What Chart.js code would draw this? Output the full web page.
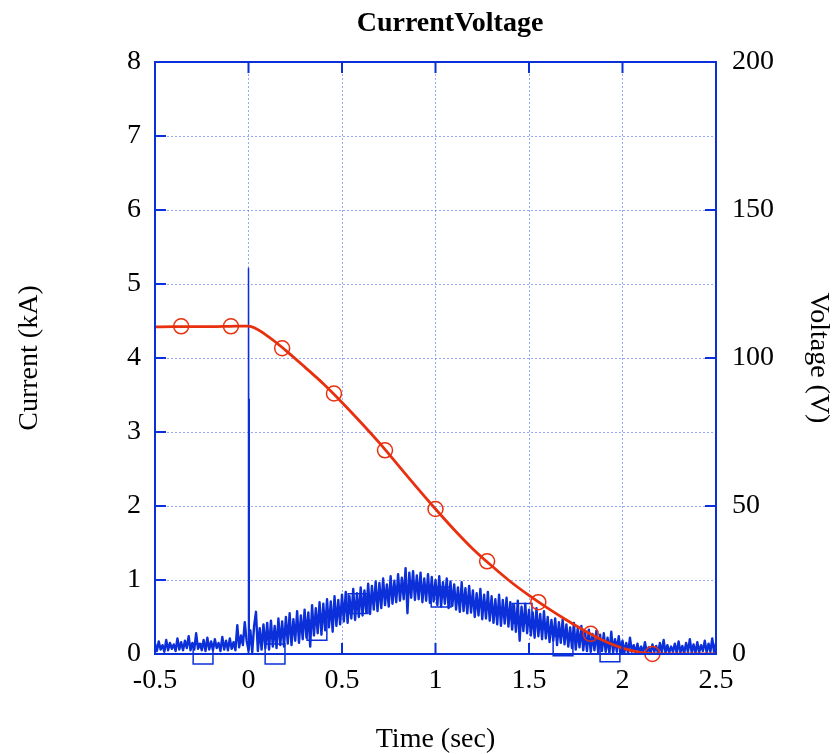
<!DOCTYPE html>
<html>
<head>
<meta charset="utf-8">
<title>CurrentVoltage</title>
<script src="https://cdn.jsdelivr.net/npm/chart.js@4.4.1/dist/chart.umd.min.js"></script>
<style>
  html, body { margin: 0; padding: 0; background: #ffffff; }
  canvas { display: block; }
</style>
</head>
<body>
<canvas id="cvChart" width="835" height="754"></canvas>
<script>
// tick labels
const timeTicks = [-0.5, 0, 0.5, 1, 1.5, 2, 2.5];
const currentTicks = [0, 1, 2, 3, 4, 5, 6, 7, 8];
const voltageTicks = [0, 50, 100, 150, 200];

// current (kA), sampled every 0.01 s from -0.5 s to 2.5 s
const currentStart = -0.5;
const currentStep = 0.01;
const currentValues = [
  0.14,0.04,0.17,0.06,0.12,0.03,0.19,0.05,0.15,0.07,
  0.13,0.04,0.21,0.06,0.16,0.05,0.18,0.08,0.24,0.05,
  0.15,0.06,0.28,0.07,0.14,0.05,0.19,0.04,0.22,0.06,
  0.17,0.05,0.20,0.08,0.15,0.04,0.23,0.06,0.18,0.05,
  0.21,0.07,0.16,0.05,0.39,0.09,0.25,0.12,0.43,0.18,
  0.05,0.32,0.02,0.38,0.57,0.04,0.35,0.06,0.40,0.08,
  0.42,0.06,0.45,0.10,0.38,0.08,0.48,0.12,0.44,0.10,
  0.50,0.14,0.55,0.12,0.47,0.18,0.58,0.15,0.52,0.20,
  0.60,0.22,0.56,0.10,0.66,0.25,0.62,0.28,0.70,0.26,
  0.68,0.32,0.74,0.36,0.71,0.30,0.78,0.38,0.73,0.40,
  0.80,0.44,0.84,0.42,0.78,0.48,0.88,0.46,0.82,0.50,
  0.90,0.52,0.86,0.56,0.95,0.54,0.92,0.60,0.98,0.58,
  0.96,0.62,1.02,0.66,0.94,0.64,1.05,0.68,0.99,0.70,
  1.08,0.72,1.03,0.74,1.16,0.55,1.10,0.76,1.12,0.73,
  1.06,0.74,1.10,0.70,1.02,0.72,1.08,0.69,1.04,0.71,
  1.00,0.66,1.05,0.64,0.97,0.68,1.02,0.62,0.98,0.65,
  0.94,0.60,0.90,0.57,0.97,0.58,0.89,0.55,0.92,0.56,
  0.86,0.50,0.82,0.52,0.88,0.47,0.80,0.48,0.84,0.45,
  0.78,0.42,0.74,0.40,0.80,0.38,0.73,0.41,0.76,0.37,
  0.70,0.33,0.66,0.30,0.72,0.18,0.64,0.31,0.68,0.28,
  0.60,0.25,0.56,0.22,0.62,0.24,0.54,0.20,0.58,0.21,
  0.50,0.16,0.46,0.18,0.48,0.12,0.43,0.15,0.47,0.13,
  0.40,0.10,0.36,0.08,0.42,0.06,0.34,0.09,0.38,0.05,
  0.30,0.04,0.33,0.03,0.27,0.05,0.31,0.02,0.26,0.04,
  0.28,0.03,0.22,0.01,0.30,0.02,0.20,0.03,0.24,0.01,
  0.18,0.02,0.15,0.01,0.22,0.03,0.12,0.01,0.14,0.02,
  0.10,0.01,0.16,0.02,0.09,0.01,0.13,0.03,0.11,0.01,
  0.15,0.02,0.19,0.01,0.12,0.02,0.10,0.03,0.14,0.01,
  0.17,0.02,0.11,0.01,0.15,0.03,0.20,0.02,0.13,0.01,
  0.16,0.02,0.12,0.04,0.18,0.02,0.14,0.03,0.21,0.02,
  0.15
];

// switching spike at t = 0
const spikeTimes = [0.0, 0.0, 0.003, 0.003, 0.005];
const spikeValues = [0.05, 5.22, 0.10, 3.45, 0.06];

// current markers (squares)
const currentMarkTimes = [-0.243, 0.142, 0.366, 0.586, 1.03, 1.463, 1.682, 1.933];
const currentMarkValues = [0.0, 0.0, 0.32, 0.68, 0.77, 0.55, 0.11, 0.03];

// voltage (V)
const voltageTimes = [-0.5,-0.4,-0.3,-0.2,-0.1,0.0,0.1,0.2,0.3,0.4,0.5,0.6,0.7,0.8,0.9,1.0,
  1.1,1.2,1.3,1.4,1.5,1.6,1.7,1.8,1.9,2.0,2.1,2.2,2.3,2.4,2.5];
const voltageValues = [110.5,110.6,110.6,110.6,110.7,110.8,107.5,102.5,97.0,91.3,85.0,78.3,71.3,63.8,56.3,49.0,
  42.0,35.5,29.8,24.5,19.8,15.5,11.5,7.8,4.5,2.0,0.5,0,0,0,0];

// voltage markers (circles)
const voltageMarkTimes = [-0.36, -0.094, 0.18, 0.457, 0.73, 1.0, 1.276, 1.55, 1.83, 2.16];
const voltageMarkValues = [110.7, 110.7, 103.3, 88.0, 68.8, 49.0, 31.3, 17.5, 6.8, 0.0];

const blue = '#0b2fd9';
const red = '#e8300e';
const gridColor = 'rgba(80, 110, 240, 0.6)';
const serif = '"Liberation Serif", "Times New Roman", serif';

const zip = (xs, ys) => xs.map((x, i) => ({ x: x, y: ys[i] }));
const currentPoints = currentValues.map((v, i) => ({ x: currentStart + i * currentStep, y: v }));

// frame, inward tick marks and the title
const framePlugin = {
    id: 'frame',
    afterDraw(chart) {
        const ctx = chart.ctx;
        const a = chart.chartArea;
        const sx = chart.scales.x, sy = chart.scales.y, sy2 = chart.scales.y2;
        const tl = 11;
        ctx.save();
        ctx.strokeStyle = blue;
        ctx.lineWidth = 2;
        ctx.setLineDash([]);
        ctx.strokeRect(a.left, a.top, a.right - a.left, a.bottom - a.top);
        ctx.beginPath();
        timeTicks.forEach(v => {
            const px = sx.getPixelForValue(v);
            ctx.moveTo(px, a.bottom); ctx.lineTo(px, a.bottom - tl);
            ctx.moveTo(px, a.top); ctx.lineTo(px, a.top + tl);
        });
        currentTicks.forEach(v => {
            const py = sy.getPixelForValue(v);
            ctx.moveTo(a.left, py); ctx.lineTo(a.left + tl, py);
        });
        voltageTicks.forEach(v => {
            const py = sy2.getPixelForValue(v);
            ctx.moveTo(a.right, py); ctx.lineTo(a.right - tl, py);
        });
        ctx.stroke();

        ctx.fillStyle = '#000000';
        ctx.font = 'bold 28px ' + serif;
        ctx.textAlign = 'center';
        ctx.textBaseline = 'middle';
        ctx.fillText('CurrentVoltage', 450, 24);
        ctx.restore();
    }
};

const ctx = document.getElementById('cvChart').getContext('2d');

const cvChart = new Chart(ctx, {
    type: 'line',
    data: {
        datasets: [
            {
                label: 'Voltage markers',
                data: zip(voltageMarkTimes, voltageMarkValues),
                yAxisID: 'y2',
                showLine: false,
                pointStyle: 'circle',
                pointRadius: 7.5,
                pointBorderWidth: 1.5,
                pointBorderColor: red,
                pointBackgroundColor: 'rgba(0,0,0,0)',
                clip: false,
                order: 0
            },
            {
                label: 'Voltage',
                data: zip(voltageTimes, voltageValues),
                yAxisID: 'y2',
                borderColor: red,
                borderWidth: 2.8,
                pointRadius: 0,
                cubicInterpolationMode: 'monotone',
                order: 1
            },
            {
                label: 'Spike',
                data: zip(spikeTimes, spikeValues),
                yAxisID: 'y',
                borderColor: blue,
                borderWidth: 1.5,
                pointRadius: 0,
                order: 2
            },
            {
                label: 'Current',
                data: currentPoints,
                yAxisID: 'y',
                borderColor: blue,
                borderWidth: 2.4,
                borderJoinStyle: 'round',
                pointRadius: 0,
                order: 3
            },
            {
                label: 'Current markers',
                data: zip(currentMarkTimes, currentMarkValues),
                yAxisID: 'y',
                showLine: false,
                pointStyle: 'rect',
                pointRadius: 14,
                pointBorderWidth: 1.5,
                pointBorderColor: blue,
                pointBackgroundColor: 'rgba(0,0,0,0)',
                clip: false,
                order: 4
            }
        ]
    },
    options: {
        responsive: false,
        animation: false,
        events: [],
        layout: { padding: { top: 62, left: 0, right: 0, bottom: 0 } },
        plugins: {
            legend: { display: false },
            tooltip: { enabled: false },
            title: { display: false }
        },
        scales: {
            x: {
                type: 'linear',
                min: -0.5,
                max: 2.5,
                afterBuildTicks: s => { s.ticks = timeTicks.map(v => ({ value: v })); },
                afterFit: s => { s.height = 100; },
                grid: { color: gridColor, lineWidth: 1, drawTicks: false },
                border: { display: false, dash: [2, 2] },
                ticks: {
                    color: '#000000',
                    padding: 10,
                    maxRotation: 0,
                    font: { family: serif, size: 28 },
                    callback: v => String(v)
                },
                title: {
                    display: true,
                    text: 'Time (sec)',
                    color: '#000000',
                    padding: { top: 0, bottom: 0 },
                    font: { family: serif, size: 28, lineHeight: 1 }
                }
            },
            y: {
                type: 'linear',
                position: 'left',
                min: 0,
                max: 8,
                afterBuildTicks: s => { s.ticks = currentTicks.map(v => ({ value: v })); },
                afterFit: s => { s.width = 155; },
                grid: { color: gridColor, lineWidth: 1, drawTicks: false },
                border: { display: false, dash: [2, 2] },
                ticks: {
                    color: '#000000',
                    padding: 14,
                    font: { family: serif, size: 28 }
                },
                title: {
                    display: true,
                    text: 'Current (kA)',
                    color: '#000000',
                    padding: { top: 16, bottom: 16 },
                    font: { family: serif, size: 28, lineHeight: 1 }
                }
            },
            y2: {
                type: 'linear',
                position: 'right',
                min: 0,
                max: 200,
                afterBuildTicks: s => { s.ticks = voltageTicks.map(v => ({ value: v })); },
                afterFit: s => { s.width = 119; },
                grid: { display: false, drawTicks: false },
                border: { display: false },
                ticks: {
                    color: '#000000',
                    padding: 16,
                    font: { family: serif, size: 28 }
                },
                title: {
                    display: true,
                    text: 'Voltage (V)',
                    color: '#000000',
                    padding: { top: 3, bottom: 3 },
                    font: { family: serif, size: 28, lineHeight: 1 }
                }
            }
        }
    },
    plugins: [framePlugin]
});
</script>
</body>
</html>
